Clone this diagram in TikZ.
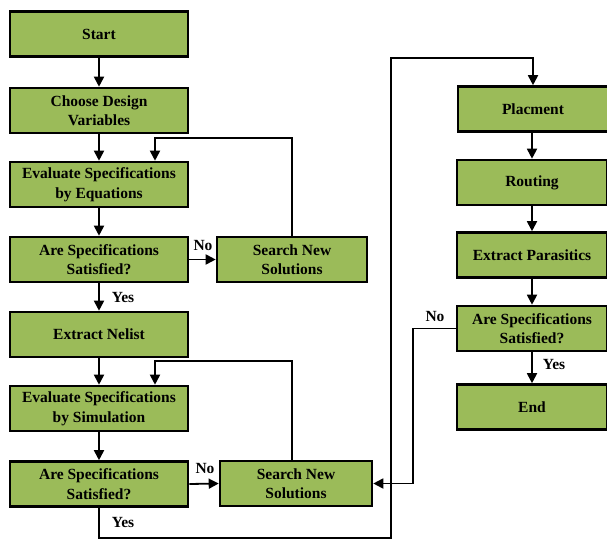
\documentclass[tikz,border=0pt]{standalone}
\usepackage{fontspec}
\setmainfont{Liberation Serif}
\usetikzlibrary{arrows.meta,calc}
\definecolor{boxgreen}{RGB}{155,187,89}
\tikzset{
 box/.style={draw=black, line width=2.6pt, fill=boxgreen, minimum width=178pt, minimum height=45pt, inner sep=0pt, align=center, font=\fontsize{15.5}{19.5}\selectfont\bfseries},
 sbox/.style={box, minimum width=150pt},
 arr/.style={line width=1.8pt, -{Triangle[length=10pt,width=10pt]}},
 lbl/.style={font=\fontsize{15.5}{16}\selectfont\bfseries, inner sep=0pt}
}
\begin{document}
\begin{tikzpicture}[x=1pt,y=-1pt]
\useasboundingbox (0,0) rectangle (607,541);
% left column
\node[box] (start) at (99,34) {Start};
\node[box] (choose) at (99,110.5) {Choose Design\\Variables};
\node[box] (evaleq) at (99,184.5) {Evaluate Specifications\\by Equations};
\node[box] (spec1) at (99,259.5) {Are Specifications\\Satisfied?};
\node[box] (nelist) at (99,334.5) {Extract Nelist};
\node[box] (evalsim) at (99,408.5) {Evaluate Specifications\\by Simulation};
\node[box] (spec2) at (99,484) {Are Specifications\\Satisfied?};
% search boxes
\node[sbox] (search1) at (292,259.5) {Search New\\Solutions};
\node[sbox, minimum width=152pt] (search2) at (296,483.5) {Search New\\Solutions};
% right column
\node[sbox] (placment) at (533,109) {Placment};
\node[sbox] (routing) at (532,182.5) {Routing};
\node[sbox] (parasitics) at (532,255) {Extract Parasitics};
\node[sbox] (spec3) at (532,328.5) {Are Specifications\\Satisfied?};
\node[sbox] (end) at (532,407) {End};
% coordinates
\coordinate (l1) at (155,138);
\coordinate (l2) at (155,361);
\coordinate (bot) at (391,538);
\coordinate (top) at (391,58);
% connectors left
\draw[arr] (start) -- (choose);
\draw[arr] (choose) -- (evaleq);
\draw[arr] (search1.north) |- (l1) -- (l1 |- evaleq.north);
\draw[arr] (evaleq) -- (spec1);
\draw[arr] (spec1.east) -- (search1.west);
\draw[arr] (spec1) -- (nelist);
\draw[arr] (nelist) -- (evalsim);
\draw[arr] (search2.north -| search1.north) |- (l2) -- (l2 |- evalsim.north);
\draw[arr] (evalsim) -- (spec2);
\draw[arr] (spec2.east) -- (search2.west);
\draw[arr] (spec2.south) |- (bot) -- (top) -| (placment.north);
% right column
\draw[arr] (placment.south -| routing.north) -- (routing);
\draw[arr] (routing) -- (parasitics);
\draw[arr] (parasitics) -- (spec3);
\draw[arr] (spec3) -- (end);
\draw[arr] (spec3.west) -- ++(-43,0) |- (search2.east);
% labels
\node[lbl] (no1) at (203,245) {No};
\node[lbl] (yes1) at (123,297) {Yes};
\node[lbl] (no2) at (205,468) {No};
\node[lbl] (yes2) at (123,522) {Yes};
\node[lbl] (no3) at (435,316) {No};
\node[lbl] (yes3) at (554,364) {Yes};
\end{tikzpicture}
\end{document}
